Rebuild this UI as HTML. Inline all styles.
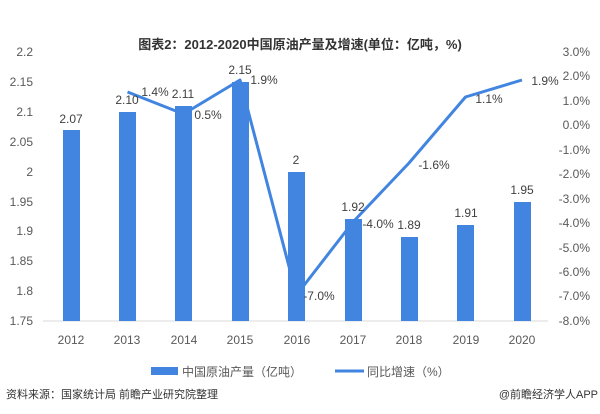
<!DOCTYPE html><html><head><meta charset="utf-8"><style>body{margin:0;background:#fff}svg text{font-family:"Liberation Sans","Noto Sans CJK SC",sans-serif}</style></head><body>
<svg width="600" height="409" xmlns="http://www.w3.org/2000/svg">
<text x="300" y="49" text-anchor="middle" font-size="13" font-weight="bold" fill="#333">图表2：2012-2020中国原油产量及增速(单位：亿吨，%)</text>
<g font-size="12" fill="#595959" text-anchor="end">
<text x="33" y="56">2.2</text><text x="33" y="86">2.15</text><text x="33" y="116">2.1</text><text x="33" y="146">2.05</text><text x="33" y="176">2</text><text x="33" y="206">1.95</text><text x="33" y="235">1.9</text><text x="33" y="265">1.85</text><text x="33" y="295">1.8</text><text x="33" y="325">1.75</text>
</g>
<g font-size="12" fill="#595959" text-anchor="end">
<text x="590" y="56">3.0%</text><text x="590" y="80">2.0%</text><text x="590" y="105">1.0%</text><text x="590" y="129">0.0%</text><text x="590" y="154">-1.0%</text><text x="590" y="178">-2.0%</text><text x="590" y="203">-3.0%</text><text x="590" y="227">-4.0%</text><text x="590" y="252">-5.0%</text><text x="590" y="276">-6.0%</text><text x="590" y="300">-7.0%</text><text x="590" y="325">-8.0%</text>
</g>
<line x1="43" y1="321" x2="548" y2="321" stroke="#d9d9d9"/>
<g fill="#4285e0">
<rect x="63" y="130" width="17" height="191"/>
<rect x="119" y="112" width="17" height="209"/>
<rect x="175" y="106" width="17" height="215"/>
<rect x="232" y="82" width="17" height="239"/>
<rect x="288" y="172" width="17" height="149"/>
<rect x="345" y="219" width="17" height="102"/>
<rect x="401" y="237" width="17" height="84"/>
<rect x="457" y="225" width="17" height="96"/>
<rect x="514" y="202" width="17" height="119"/>
</g>
<polyline fill="none" stroke="#4285e0" stroke-width="3" stroke-linejoin="round" points="127.5,92 183.5,114 240,80 296.5,295 353,222 409,163 465.5,97 522,80"/>
<g font-size="12" fill="#404040" text-anchor="middle">
<text x="71" y="123">2.07</text><text x="127" y="104">2.10</text><text x="183" y="98">2.11</text><text x="240" y="74">2.15</text><text x="296" y="164">2</text><text x="353" y="211">1.92</text><text x="409" y="229">1.89</text><text x="466" y="217">1.91</text><text x="522" y="194">1.95</text>
<text x="155" y="96">1.4%</text><text x="208" y="119">0.5%</text><text x="264" y="84">1.9%</text><text x="319" y="300">-7.0%</text><text x="378" y="228">-4.0%</text><text x="434" y="169">-1.6%</text><text x="489" y="103">1.1%</text><text x="545" y="85">1.9%</text>
</g>
<g font-size="12" fill="#595959" text-anchor="middle">
<text x="71" y="344">2012</text><text x="127" y="344">2013</text><text x="184" y="344">2014</text><text x="240" y="344">2015</text><text x="297" y="344">2016</text><text x="353" y="344">2017</text><text x="409" y="344">2018</text><text x="466" y="344">2019</text><text x="522" y="344">2020</text>
</g>
<rect x="151" y="367" width="27" height="8" fill="#4285e0"/>
<text x="182" y="376" font-size="12" fill="#595959">中国原油产量（亿吨）</text>
<line x1="335" y1="371" x2="364" y2="371" stroke="#4285e0" stroke-width="3"/>
<text x="367" y="376" font-size="12" fill="#595959">同比增速（%）</text>
<text x="6" y="398" font-size="11" fill="#333">资料来源：国家统计局 前瞻产业研究院整理</text>
<text x="598" y="398" font-size="11" fill="#333" text-anchor="end">@前瞻经济学人APP</text>
</svg></body></html>
